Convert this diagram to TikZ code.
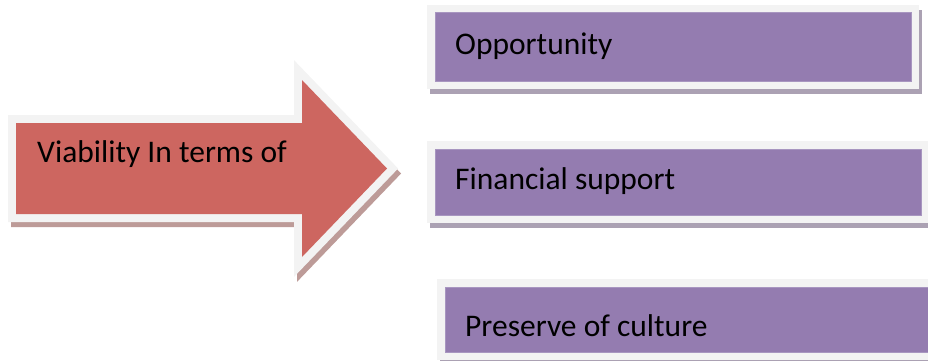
\documentclass[tikz,border=0pt]{standalone}
\usepackage{fontspec}
\setmainfont{Carlito}
\definecolor{arrowred}{HTML}{CD6660}
\definecolor{boxpurple}{HTML}{947CB0}
\definecolor{boxedge}{HTML}{A896C0}
\definecolor{glowgrey}{HTML}{F3F3F3}
\definecolor{redshadow}{HTML}{BD9B98}
\definecolor{purpleshadow}{HTML}{ABA1B3}
% purple panel with a light rim and a soft drop shadow: x1,y1,x2,y2 of the purple face
\newcommand\glowpanel[4]{%
  \fill[purpleshadow] (#1-5,#2-3) rectangle (#3+11,#4+13);
  \fill[glowgrey] (#1-8,#2-8) rectangle (#3+8,#4+8);
  \filldraw[fill=boxpurple, draw=boxedge, line width=1pt] (#1,#2) rectangle (#3,#4);
}
\begin{document}
\begin{tikzpicture}[x=1pt,y=-1pt,
  itemtext/.style={anchor=base west, inner sep=0pt, text=black,
    font=\fontsize{31.5}{36}\selectfont},
  rim/.style={line width=16pt, line join=miter, miter limit=10}]
\useasboundingbox (0,0) rectangle (928,361);

% block arrow: shadow, light rim, red face
\begin{scope}[shift={(3,5)}]
  \filldraw[rim, draw=redshadow, fill=redshadow]
    (16,123) -- (302,123) -- (302,80) -- (387,168.5) -- (302,257) -- (302,214) -- (16,214) -- cycle;
\end{scope}
\filldraw[rim, draw=glowgrey, fill=glowgrey]
  (16,123) -- (302,123) -- (302,80) -- (387,168.5) -- (302,257) -- (302,214) -- (16,214) -- cycle;
\fill[arrowred]
  (16,123) -- (302,123) -- (302,80) -- (387,168.5) -- (302,257) -- (302,214) -- (16,214) -- cycle;
\node[itemtext] (viability) at (37,162) {Viability In terms of};

% the three panels
\glowpanel{435}{13}{911}{81}
\node[itemtext] (opportunity) at (455,55) {Opportunity};

\glowpanel{435}{149}{921}{215}
\node[itemtext] (financial) at (455,189) {Financial support};

\glowpanel{445}{287}{936}{352}
\node[itemtext] (culture) at (465,336) {Preserve of culture};
\end{tikzpicture}
\end{document}
